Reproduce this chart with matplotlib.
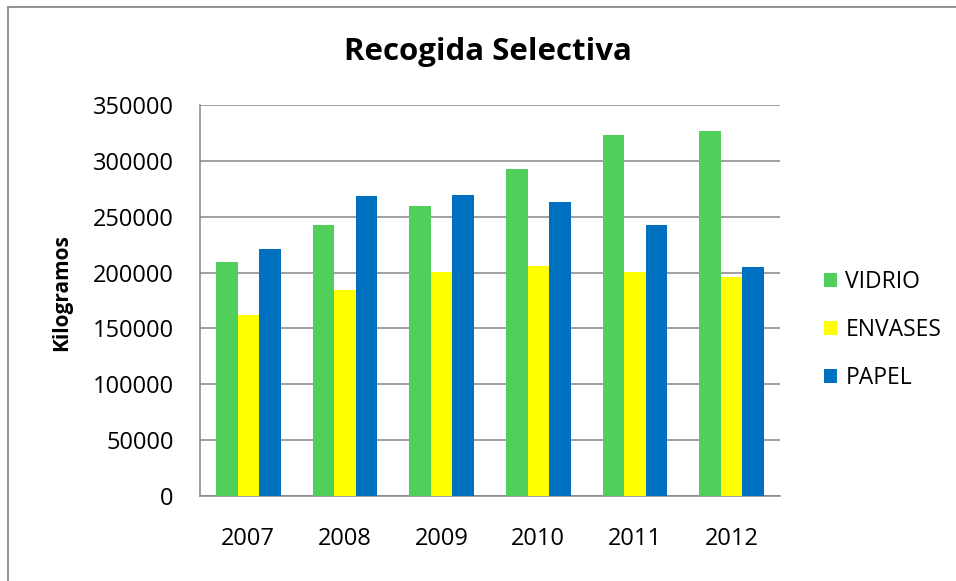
import matplotlib.pyplot as plt
import numpy as np
from matplotlib.patches import Patch, Rectangle

# datos de recogida selectiva (kg)
years = ['2007', '2008', '2009', '2010', '2011', '2012']
vidrio = [209500, 242300, 260000, 292500, 323000, 326500]
envases = [161700, 184400, 200200, 206200, 200200, 196000]
papel = [220800, 268200, 269500, 263000, 243000, 205000]
series = ['VIDRIO', 'ENVASES', 'PAPEL']
colors = ['#50D05A', '#FFFF00', '#0070C0']

plt.rcParams['font.family'] = ['Open Sans', 'DejaVu Sans']

fig = plt.figure(figsize=(9.56, 5.81), dpi=100)
ax = fig.add_axes([200/956, 1-496/581, 580/956, 391/581])

# marco exterior del grafico
fig.patches.append(Rectangle((7.5/956, -0.1), 1.2, 1-6.5/581+0.1, transform=fig.transFigure,
                             fill=False, edgecolor='#888888', lw=1.3))

x = np.arange(len(years))
w = 0.222
for i, (vals, c) in enumerate(zip([vidrio, envases, papel], colors)):
    ax.bar(x + (i-1)*w, vals, width=w, color=c, zorder=3)

ax.set_xlim(-0.5, 5.5)
ax.set_ylim(0, 350000)
ax.set_yticks(np.arange(0, 350001, 50000))
ax.yaxis.grid(True, color='#868686', lw=1.1, zorder=0)
ax.set_axisbelow(True)
ax.set_xticks(x)
ax.set_xticklabels(years)
ax.tick_params(length=0, labelsize=17)
ax.tick_params(axis='y', pad=19)
ax.tick_params(axis='x', pad=22)
for s in ['top', 'right']:
    ax.spines[s].set_visible(False)
for s in ['left', 'bottom']:
    ax.spines[s].set_color('#868686')
    ax.spines[s].set_linewidth(1.1)

fig.text(488/956, 1-52/581, 'Recogida Selectiva', ha='center', va='center',
         fontsize=22.5, fontweight='bold')
fig.text(62/956, 1-293/581, 'Kilogramos', ha='center', va='center', rotation=90,
         fontsize=15, fontweight='bold')

handles = [Patch(facecolor=c) for c in colors]
fig.legend(handles, series, loc='center left', bbox_to_anchor=(803/956, 1-330/581),
           frameon=False, fontsize=16.5, handlelength=0.6, handleheight=0.6,
           handletextpad=0.35, labelspacing=1.05)

fig.savefig('out.png', dpi=100)
